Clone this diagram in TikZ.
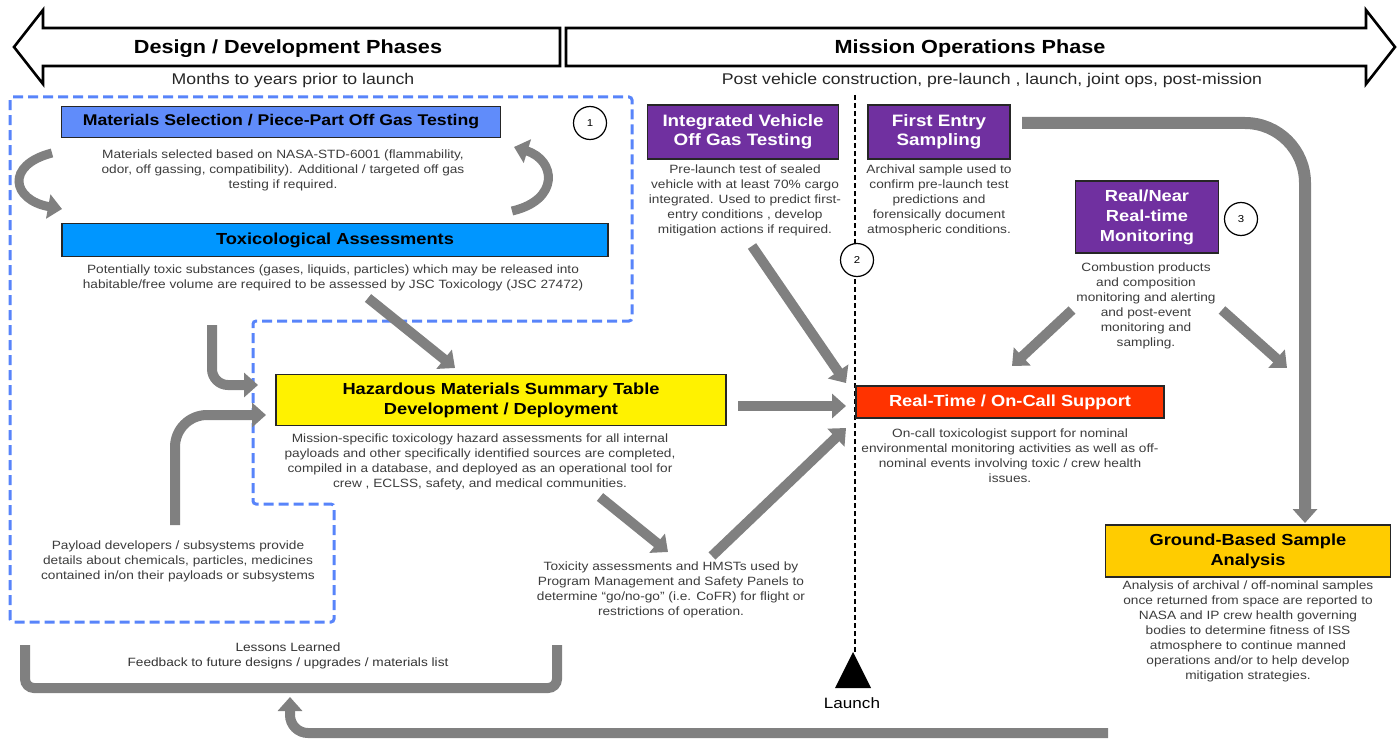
\documentclass[tikz,border=0pt]{standalone}
\usepackage{fontspec}
\setmainfont{Liberation Sans}[FakeStretch=1.14]
\usetikzlibrary{arrows.meta}
\definecolor{dblue}{RGB}{88,132,250}
\definecolor{matblue}{RGB}{96,140,250}
\definecolor{toxblue}{RGB}{0,150,255}
\definecolor{purp}{RGB}{112,48,160}
\definecolor{rtred}{RGB}{255,51,0}
\definecolor{gold}{RGB}{255,204,0}
\definecolor{arrgray}{RGB}{128,128,128}
\definecolor{txtgray}{RGB}{60,60,60}
\tikzset{
  titlebox/.style={draw=black!85, line width=1.3pt, inner sep=0pt, align=center, font=\bfseries\fontsize{15.5}{18}\selectfont},
  desc/.style={align=center, text=txtgray, inner sep=0pt, font=\fontsize{12}{15}\selectfont},
  garrow/.style={draw=arrgray, line width=10pt, -{Triangle[width=24pt,length=14pt]}},
  numcirc/.style={circle, draw=black, line width=1.2pt, fill=white, minimum size=33pt, inner sep=0pt, font=\fontsize{10}{10}\selectfont},
  phase/.style={draw=black, line width=2.6pt, fill=white, line join=miter},
}
\begin{document}
\begin{tikzpicture}[x=1pt,y=-1pt]
\useasboundingbox (0,0) rectangle (1400,741);

% phase arrows
\draw[phase] (560,28) -- (43,28) -- (43,10) -- (14,47) -- (43,84) -- (43,66) -- (560,66) -- cycle;
\draw[phase] (566,28) -- (1366,28) -- (1366,10) -- (1395,47) -- (1366,84) -- (1366,66) -- (566,66) -- cycle;
\node[font=\bfseries\fontsize{19}{22}\selectfont] (t1) at (288,49) {Design / Development Phases};
\node[font=\bfseries\fontsize{19}{22}\selectfont] (t2) at (970,49) {Mission Operations Phase};
\node[font=\fontsize{15.5}{18}\selectfont, text=black!85] (s1) at (293,80) {Months to years prior to launch};
\node[font=\fontsize{15.5}{18}\selectfont, text=black!85] (s2) at (992,80) {Post vehicle construction, pre-launch , launch, joint  ops,  post-mission};

% dashed region
\draw[dblue, line width=3pt, dash pattern=on 10pt off 5pt, rounded corners=3pt]
  (10,97) -- (632,97) -- (632,321) -- (253,321) -- (253,504) -- (334,504) -- (334,622) -- (10,622) -- cycle;

% launch line
\draw[black, line width=1.3pt, dash pattern=on 5pt off 3pt] (855,95) -- (855,652);

% boxes
\node[titlebox, fill=matblue, minimum width=439pt, minimum height=31pt] (mat) at (281,122) {Materials Selection / Piece-Part Off Gas Testing};
\node[numcirc] (c1) at (590,123) {1};
\node[desc] (d1) at (283,170) {Materials selected based on NASA-STD-6001 (flammability,\\odor, off gassing, compatibility).  Additional / targeted off gas\\testing if required.};

\node[titlebox, fill=toxblue, minimum width=546pt, minimum height=33pt, font=\bfseries\fontsize{16}{18}\selectfont] (tox) at (335,240) {Toxicological Assessments};
\node[desc] (d2) at (333,278) {Potentially toxic substances (gases, liquids, particles) which may be released into\\habitable/free volume are required to be assessed by JSC Toxicology (JSC 27472)};

\node[titlebox, fill=yellow, minimum width=450pt, minimum height=51pt, font=\bfseries\fontsize{16}{20}\selectfont] (hmst) at (501,400) {Hazardous Materials Summary Table\\Development / Deployment};
\node[desc] (d3) at (480,462) {Mission-specific toxicology hazard assessments for  all internal\\payloads and other specifically identified sources are completed,\\compiled in a database, and deployed as an operational  tool for\\crew , ECLSS, safety, and medical communities.};

\node[desc] (d9) at (178,561) {Payload developers / subsystems provide\\details about chemicals, particles, medicines\\contained in/on their payloads or subsystems};

\node[desc] (d10) at (671,590) {Toxicity assessments and HMSTs used by\\Program Management and Safety Panels to\\determine ``go/no-go'' (i.e. CoFR) for flight or\\restrictions of operation.};

\node[titlebox, fill=purp, text=white, minimum width=191pt, minimum height=54pt, font=\bfseries\fontsize{16.5}{19.5}\selectfont] (ivo) at (743,132) {Integrated Vehicle\\Off Gas Testing};
\node[desc] (d4) at (745,200) {Pre-launch test of sealed\\vehicle with at least 70\% cargo\\integrated.  Used to predict first-\\entry  conditions , develop\\mitigation actions if required.};

\node[titlebox, fill=purp, text=white, minimum width=142pt, minimum height=54pt, font=\bfseries\fontsize{16.5}{19.5}\selectfont] (fes) at (939,132) {First Entry\\Sampling};
\node[desc] (d5) at (939,200) {Archival sample used to\\confirm pre-launch test\\predictions and\\forensically document\\atmospheric conditions.};

\node[numcirc] (c2) at (857,260) {2};

\node[titlebox, fill=purp, text=white, minimum width=143pt, minimum height=72pt, font=\bfseries\fontsize{16}{20}\selectfont] (rnm) at (1147,217) {Real/Near\\Real-time\\Monitoring};
\node[numcirc] (c3) at (1241,219) {3};
\node[desc] (d6) at (1146,305.5) {Combustion products\\and composition\\monitoring and alerting\\and  post-event\\monitoring and\\sampling.};

\node[titlebox, fill=rtred, text=white, minimum width=308pt, minimum height=32pt, font=\bfseries\fontsize{16}{18}\selectfont] (rt) at (1010,402) {Real-Time / On-Call Support};
\node[desc] (d7) at (1010,455.5) {On-call toxicologist support for nominal\\environmental monitoring activities as well as off-\\nominal events involving toxic / crew health\\issues.};

\node[titlebox, fill=gold, minimum width=285pt, minimum height=52pt, font=\bfseries\fontsize{16}{20}\selectfont] (gb) at (1248,551) {Ground-Based Sample\\Analysis};
\node[desc] (d8) at (1248,631) {Analysis of archival / off-nominal samples\\once returned from space are reported to\\NASA and IP crew health  governing\\bodies to determine fitness of ISS\\atmosphere to continue manned\\operations and/or to help develop\\mitigation strategies.};

% launch marker
\fill[black] (853,652) -- (871,688) -- (835,688) -- cycle;
\node[font=\fontsize{15}{18}\selectfont] (launch) at (852,703) {Launch};

% lessons learned
\node[desc, text=black!80] (ll) at (288,656) {Lessons Learned\\Feedback to future designs / upgrades / materials list};

% coordinates for connectors
\coordinate (la1) at (52,153);   \coordinate (la2) at (62,209);
\coordinate (ra1) at (512,211);  \coordinate (ra2) at (514,147);
\coordinate (p1) at (368,298);   \coordinate (p2) at (455,368);
\coordinate (q1) at (212,325);   \coordinate (q2) at (212,385);  \coordinate (q3) at (258,385);
\coordinate (u1) at (175,525);   \coordinate (u2) at (175,415);  \coordinate (u3) at (266,415);
\coordinate (e1) at (600,497);   \coordinate (e2) at (668,552);
\coordinate (f1) at (712,556);   \coordinate (f2) at (846,428);
\coordinate (g1) at (738,406);   \coordinate (g2) at (846,406);
\coordinate (h1) at (752,246);   \coordinate (h2) at (846,383);
\coordinate (k1) at (1022,123);  \coordinate (k2) at (1305,123); \coordinate (k3) at (1305,523);
\coordinate (m1) at (1072,310);  \coordinate (m2) at (1012,366);
\coordinate (n1) at (1222,310);  \coordinate (n2) at (1287,368);
\coordinate (b1) at (25,645);    \coordinate (b2) at (25,688);   \coordinate (b3) at (557,688); \coordinate (b4) at (557,645);
\coordinate (r1) at (1108,733);  \coordinate (r2) at (290,733);  \coordinate (r3) at (290,697);

% connectors
\draw[garrow, line width=9pt] (la1) .. controls (5,165) and (12,200) .. (la2);
\draw[garrow, line width=9pt] (ra1) .. controls (560,200) and (556,160) .. (ra2);
\draw[garrow] (p1) -- (p2);
\draw[garrow, rounded corners=16pt] (q1) -- (q2) -- (q3);
\draw[garrow, rounded corners=32pt] (u1) -- (u2) -- (u3);
\draw[garrow] (e1) -- (e2);
\draw[garrow] (f1) -- (f2);
\draw[garrow] (g1) -- (g2);
\draw[garrow] (h1) -- (h2);
\draw[garrow, line width=12pt, rounded corners=60pt] (k1) -- (k2) -- (k3);
\draw[garrow] (m1) -- (m2);
\draw[garrow] (n1) -- (n2);
\draw[arrgray, line width=10pt, rounded corners=9pt] (b1) -- (b2) -- (b3) -- (b4);
\draw[garrow, rounded corners=18pt] (r1) -- (r2) -- (r3);
\end{tikzpicture}
\end{document}
